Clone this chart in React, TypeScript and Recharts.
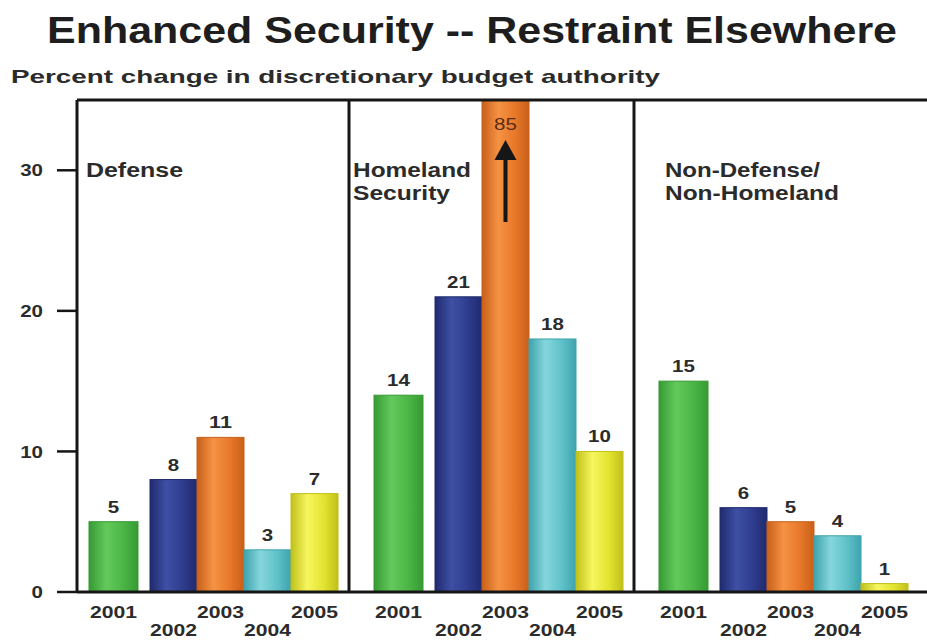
import { Bar, BarChart, LabelList, ReferenceArea, ReferenceLine, XAxis, YAxis } from "recharts";

// budget authority, % change by fiscal year
const panels = ["Defense", "Homeland Security", "Non-Defense/Non-Homeland"];
const panelLines = [["Defense"], ["Homeland", "Security"], ["Non-Defense/", "Non-Homeland"]];
const years = ["2001", "2002", "2003", "2004", "2005"];
const fy2001 = [5, 14, 15];
const fy2002 = [8, 21, 6];
const fy2003 = [11, 85, 5];
const fy2004 = [3, 18, 4];
const fy2005 = [7, 10, 0.6];
const yTicks = [0, 10, 20, 30];

const series = [fy2001, fy2002, fy2003, fy2004, fy2005];
const rows = panels.map((panel, i) => {
  const row: Record<string, any> = { panel };
  years.forEach((yr, j) => (row["y" + yr] = series[j][i]));
  return row;
});

const Y_MAX = 35;
const TOP = 100;
const INK = "#161616";
const TXT = "#2b2b2b";
const FONT = "'Liberation Sans', Arial, Helvetica, sans-serif";
const DIGIT = 11.4;

const shades = [
  { light: "#63c95b", mid: "#4bb646", dark: "#369a33" },
  { light: "#3e50a4", mid: "#2e3c8e", dark: "#202a6e" },
  { light: "#f59243", mid: "#e8782a", dark: "#c8601a" },
  { light: "#85d6dc", mid: "#60c2c9", dark: "#3ea3ad" },
  { light: "#f6f65e", mid: "#e3e330", dark: "#c0c01c" },
];

// green sits a bit apart from the other four
const SHIFT = [-13, 1, 1, 1, 1];
const WIDEN = [2, 0, 0, 0, 0];

const makeShape = (k: number) => (p: any) => {
  const s = shades[k];
  return (
    <rect
      x={p.x + SHIFT[k]}
      y={p.y}
      width={p.width + WIDEN[k]}
      height={Math.max(p.height, 0)}
      fill={`url(#bar${k})`}
      stroke={s.dark}
      strokeWidth={1}
    />
  );
};

const valueLabel = (k: number) => (p: any) => {
  const vb = p.viewBox ?? p;
  const cx = vb.x + SHIFT[k] + (vb.width + WIDEN[k]) / 2;
  const v = Number(p.value);
  if (v > Y_MAX) {
    return (
      <g>
        <text x={cx} y={TOP + 30} textAnchor="middle" fontSize={17} fontFamily={FONT} fill="#5a2c10"
          textLength={String(v).length * DIGIT} lengthAdjust="spacingAndGlyphs">{v}</text>
        <line x1={cx} x2={cx} y1={TOP + 122} y2={TOP + 56} stroke={INK} strokeWidth={4} />
        <path d={`M${cx},${TOP + 40} L${cx - 11},${TOP + 60} L${cx + 11},${TOP + 60} Z`} fill={INK} />
      </g>
    );
  }
  const s = String(Math.round(v));
  return (
    <text x={cx} y={vb.y - 9} textAnchor="middle" fontSize={17} fontWeight="bold" fontFamily={FONT} fill={TXT}
      textLength={s.length * DIGIT} lengthAdjust="spacingAndGlyphs">{s}</text>
  );
};

const yearLabel = (k: number) => (p: any) => {
  const vb = p.viewBox ?? p;
  const cx = vb.x + SHIFT[k] + (vb.width + WIDEN[k]) / 2;
  return (
    <text x={cx} y={vb.y + vb.height + (k % 2 === 0 ? 26 : 44)} textAnchor="middle" fontSize={16.5} fontWeight="bold"
      fontFamily={FONT} fill={TXT} textLength={47} lengthAdjust="spacingAndGlyphs">{years[k]}</text>
  );
};

const YTick = ({ x, y, payload }: any) => {
  const s = String(payload.value);
  return (
    <text x={x} y={y} dy="0.36em" textAnchor="end" fontSize={17} fontWeight="bold" fontFamily={FONT} fill={TXT}
      textLength={s.length * DIGIT} lengthAdjust="spacingAndGlyphs">{s}</text>
  );
};

const PanelEdge = (p: any) => (
  <line x1={p.x + p.width - 13} x2={p.x + p.width - 13} y1={p.y} y2={p.y + p.height} stroke={INK} strokeWidth={3} />
);

const panelText = [
  { x: 86, w: [97] },
  { x: 353, w: [118, 97] },
  { x: 665, w: [155, 174] },
];

export default function App() {
  return (
    <div style={{ position: "absolute", left: 0, top: 0, width: 927, height: 641, overflow: "hidden", background: "#fff" }}>
      <BarChart width={932} height={641} data={rows} margin={{ top: TOP, right: 0, bottom: 49, left: 0 }}
        barSize={47} barGap={0}>
        <defs>
          {shades.map((s, k) => (
            <linearGradient key={k} id={`bar${k}`} x1="0" y1="0" x2="1" y2="0">
              <stop offset="0%" stopColor={s.dark} />
              <stop offset="35%" stopColor={s.light} />
              <stop offset="70%" stopColor={s.mid} />
              <stop offset="100%" stopColor={s.dark} />
            </linearGradient>
          ))}
        </defs>
        <XAxis dataKey="panel" hide />
        <YAxis
          domain={[0, Y_MAX]}
          ticks={yTicks}
          allowDataOverflow
          width={77}
          tickSize={20}
          tickMargin={14}
          axisLine={{ stroke: INK, strokeWidth: 3 }}
          tickLine={{ stroke: INK, strokeWidth: 2.5 }}
          tick={<YTick />}
        />
        {years.map((yr, k) => (
          <Bar key={yr} dataKey={"y" + yr} shape={makeShape(k)} isAnimationActive={false}>
            <LabelList dataKey={"y" + yr} content={valueLabel(k)} />
            <LabelList dataKey={"y" + yr} content={yearLabel(k)} />
          </Bar>
        ))}
        {panels.slice(0, 2).map((p) => (
          <ReferenceArea key={p} x1={p} x2={p} shape={<PanelEdge />} />
        ))}
        <ReferenceLine y={Y_MAX} stroke={INK} strokeWidth={3} />
        <ReferenceLine y={0} stroke={INK} strokeWidth={3} />
      </BarChart>
      <svg width={927} height={641} style={{ position: "absolute", left: 0, top: 0, pointerEvents: "none" }}>
        <text x={47} y={43} fontSize={36} fontWeight="bold" fontFamily={FONT} fill="#1e1e1e"
          textLength={850} lengthAdjust="spacingAndGlyphs">Enhanced Security -- Restraint Elsewhere</text>
        <text x={11} y={83} fontSize={19} fontWeight="bold" fontFamily={FONT} fill={TXT}
          textLength={649} lengthAdjust="spacingAndGlyphs">Percent change in discretionary budget authority</text>
        {panelLines.map((lines, i) =>
          lines.map((ln, j) => (
            <text key={`${i}-${j}`} x={panelText[i].x} y={177 + j * 23} fontSize={20} fontWeight="bold" fontFamily={FONT}
              fill={TXT} textLength={panelText[i].w[j]} lengthAdjust="spacingAndGlyphs">{ln}</text>
          ))
        )}
      </svg>
    </div>
  );
}
